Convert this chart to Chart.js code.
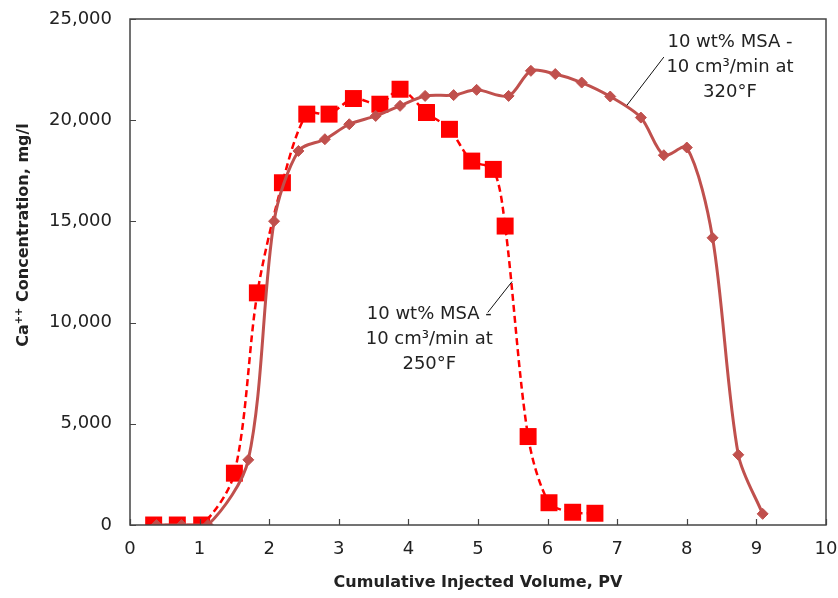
<!DOCTYPE html>
<html>
<head>
<meta charset="utf-8">
<script src="https://cdn.jsdelivr.net/npm/chart.js@4"></script>
<style>
  html, body { margin: 0; padding: 0; background: #fff; }
  #wrap { width: 838px; height: 598px; }
</style>
</head>
<body>
<div id="wrap"><canvas id="caChart"></canvas></div>
<script>
// 10 wt% MSA - 10 cm3/min at 250°F (red squares, dashed)
const pv250 = [0.34, 0.68, 1.03, 1.50, 1.83, 2.19, 2.54, 2.86, 3.21, 3.59, 3.88, 4.26, 4.59, 4.91, 5.22, 5.39, 5.72, 6.02, 6.36, 6.68];
const ca250 = [0, 0, 0, 2560, 11470, 16910, 20300, 20300, 21070, 20790, 21530, 20380, 19550, 17980, 17570, 14770, 4370, 1100, 630, 580];

// 10 wt% MSA - 10 cm3/min at 320°F (brown diamonds, solid)
const pv320 = [0.38, 0.74, 1.12, 1.70, 2.07, 2.42, 2.80, 3.15, 3.53, 3.88, 4.24, 4.65, 4.98, 5.44, 5.76, 6.11, 6.49, 6.90, 7.34, 7.67, 8.00, 8.37, 8.74, 9.09];
const ca320 = [0, 0, 0, 3220, 15010, 18480, 19060, 19800, 20210, 20710, 21200, 21240, 21500, 21200, 22440, 22280, 21860, 21170, 20130, 18270, 18650, 14190, 3470, 550];

const xTicks = [0, 1, 2, 3, 4, 5, 6, 7, 8, 9, 10];
const yTicks = [0, 5000, 10000, 15000, 20000, 25000];

const FONT = '"DejaVu Sans", "Liberation Sans", Arial, sans-serif';
const TEXT = '#222';

const toXY = (xs, ys) => xs.map((x, i) => ({ x: x, y: ys[i] }));

// labels written next to the curves, anchored in data units
const notes = [
    { lines: ['10 wt% MSA -', '10 cm\u00B3/min at', '320\u00B0F'], x: 8.62, y: 23860, lead: [7.67, 23120, 7.14, 20740] },
    { lines: ['10 wt% MSA -', '10 cm\u00B3/min at', '250\u00B0F'], x: 4.30, y: 10400, lead: [5.14, 10500, 5.49, 12030] }
];

const framePlugin = {
    id: 'frame',
    afterDraw(chart) {
        const { ctx, chartArea: a, scales: { x, y } } = chart;
        ctx.save();
        ctx.strokeStyle = '#444';
        ctx.lineWidth = 1.5;
        ctx.strokeRect(a.left, a.top, a.right - a.left, a.bottom - a.top);
        ctx.lineWidth = 1.2;
        ctx.beginPath();
        xTicks.forEach(v => {
            const px = Math.round(x.getPixelForValue(v)) + 0.5;
            ctx.moveTo(px, a.bottom); ctx.lineTo(px, a.bottom - 6);
        });
        yTicks.forEach(v => {
            const py = Math.round(y.getPixelForValue(v)) + 0.5;
            ctx.moveTo(a.left, py); ctx.lineTo(a.left + 6, py);
        });
        ctx.stroke();

        // annotations
        ctx.fillStyle = TEXT;
        ctx.font = '18px ' + FONT;
        ctx.textAlign = 'center';
        ctx.textBaseline = 'middle';
        notes.forEach(n => {
            const cx = x.getPixelForValue(n.x);
            const cy = y.getPixelForValue(n.y);
            n.lines.forEach((t, i) => ctx.fillText(t, cx, cy + i * 25));
            ctx.strokeStyle = '#111';
            ctx.lineWidth = 1;
            ctx.beginPath();
            ctx.moveTo(x.getPixelForValue(n.lead[0]), y.getPixelForValue(n.lead[1]));
            ctx.lineTo(x.getPixelForValue(n.lead[2]), y.getPixelForValue(n.lead[3]));
            ctx.stroke();
        });

        // y axis title with superscript ++
        ctx.translate(24, 235);
        ctx.rotate(-Math.PI / 2);
        ctx.textAlign = 'left';
        ctx.textBaseline = 'middle';
        const big = 'bold 16px ' + FONT, small = 'bold 10px ' + FONT;
        const p1 = 'Ca', p2 = '++', p3 = ' Concentration, mg/l';
        ctx.font = big; const w1 = ctx.measureText(p1).width, w3 = ctx.measureText(p3).width;
        ctx.font = small; const w2 = ctx.measureText(p2).width;
        let sx = -(w1 + w2 + w3) / 2;
        ctx.font = big; ctx.fillText(p1, sx, 0); sx += w1;
        ctx.font = small; ctx.fillText(p2, sx, -5); sx += w2;
        ctx.font = big; ctx.fillText(p3, sx, 0);
        ctx.restore();
    }
};

new Chart(document.getElementById('caChart'), {
    type: 'scatter',
    data: {
        datasets: [
            {
                label: '250F',
                data: toXY(pv250, ca250),
                showLine: true,
                borderColor: '#FF0000',
                borderWidth: 2.5,
                borderDash: [7, 4],
                tension: 0.3,
                pointStyle: 'rect',
                pointRadius: 12,
                pointHoverRadius: 12,
                pointBackgroundColor: '#FF0000',
                pointBorderColor: '#FF0000',
                pointBorderWidth: 0,
                order: 2
            },
            {
                label: '320F',
                data: toXY(pv320, ca320),
                showLine: true,
                borderColor: '#C0504D',
                borderWidth: 3,
                tension: 0.3,
                pointStyle: 'rectRot',
                pointRadius: 5.5,
                pointHoverRadius: 5.5,
                pointBackgroundColor: '#C0504D',
                pointBorderColor: '#C0504D',
                pointBorderWidth: 1,
                order: 1
            }
        ]
    },
    options: {
        responsive: true,
        maintainAspectRatio: false,
        animation: false,
        layout: { padding: { left: 0, right: 12, top: 19, bottom: 0 } },
        plugins: { legend: { display: false }, tooltip: { enabled: false } },
        scales: {
            x: {
                type: 'linear',
                min: 0, max: 10,
                grid: { display: false, drawTicks: false },
                border: { display: false },
                afterBuildTicks: s => { s.ticks = xTicks.map(v => ({ value: v })); },
                afterFit: s => { s.height = 73; s.paddingLeft = 0; s.paddingRight = 0; },
                ticks: { padding: 14, color: TEXT, font: { family: FONT, size: 18 } },
                title: {
                    display: true,
                    text: 'Cumulative Injected Volume, PV',
                    color: TEXT,
                    padding: { top: 0, bottom: 6 },
                    font: { family: FONT, size: 16, weight: 'bold' }
                }
            },
            y: {
                type: 'linear',
                min: 0, max: 25000,
                grid: { display: false, drawTicks: false },
                border: { display: false },
                afterBuildTicks: s => { s.ticks = yTicks.map(v => ({ value: v })); },
                afterFit: s => { s.width = 130; s.paddingTop = 0; s.paddingBottom = 0; },
                ticks: {
                    padding: 18, color: TEXT, font: { family: FONT, size: 18 },
                    callback: v => v.toLocaleString('en-US')
                }
            }
        }
    },
    plugins: [framePlugin]
});
</script>
</body>
</html>
